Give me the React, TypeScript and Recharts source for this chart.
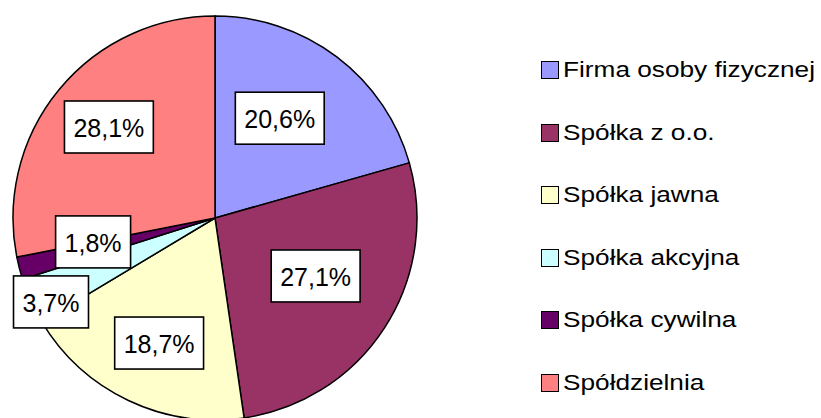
import { PieChart, Pie, Cell, Legend } from 'recharts';

document.body.style.margin = '0';

const categories = [
  'Firma osoby fizycznej',
  'Spółka z o.o.',
  'Spółka jawna',
  'Spółka akcyjna',
  'Spółka cywilna',
  'Spółdzielnia',
];
const shares = [20.6, 27.1, 18.7, 3.7, 1.8, 28.1];
const colors = ['#9999FF', '#993366', '#FFFFCC', '#CCFFFF', '#660066', '#FF8080'];

const chartData = categories.map((name, i) => ({ name, value: shares[i] }));

// label box placement: radial factor and angle nudge (deg) from slice middle
const LABEL_R = [0.589, 0.575, 0.678, 0.912, 0.615, 0.692];
const LABEL_DA = [4.1, 3.0, 1.3, 2.8, -3.3, -1.2];

const FONT = '"Liberation Sans", Arial, sans-serif';
const RAD = Math.PI / 180;

const charWidth = (c: string) => (c === ',' ? 0.278 : c === '%' ? 0.889 : 0.556);

const fmt = (v: number) => `${v.toFixed(1).replace('.', ',')}%`;

const renderLabel = (props: any) => {
  const { cx, cy, midAngle, outerRadius, index, value } = props;
  const a = (midAngle + LABEL_DA[index]) * RAD;
  const r = outerRadius * LABEL_R[index];
  const x = cx + r * Math.cos(a);
  const y = cy - r * Math.sin(a);
  const text = fmt(value);
  const w = text.split('').reduce((s, c) => s + charWidth(c), 0) * 25 + 18;
  const h = 52;
  return (
    <g key={`label-${index}`}>
      <rect x={x - w / 2} y={y - h / 2} width={w} height={h} fill="#FFFFFF" stroke="#000000" strokeWidth={1.6} />
      <text x={x} y={y + 1} textAnchor="middle" dominantBaseline="central" fontFamily={FONT} fontSize={25} fill="#000000">
        {text}
      </text>
    </g>
  );
};

const renderLegend = () => (
  <div style={{ fontFamily: FONT }}>
    {categories.map((name, i) => (
      <div key={name} style={{ height: 62.6, display: 'flex', alignItems: 'center' }}>
        <span
          style={{
            width: 16,
            height: 16,
            background: colors[i],
            border: '1.3px solid #000',
            display: 'inline-block',
            flexShrink: 0,
          }}
        />
        <span
          style={{
            fontSize: 22.5,
            marginLeft: 4,
            color: '#000',
            whiteSpace: 'nowrap',
            display: 'inline-block',
            transform: 'scaleX(1.165)',
            transformOrigin: 'left center',
          }}
        >
          {name}
        </span>
      </div>
    ))}
  </div>
);

export default function App() {
  return (
    <div style={{ width: 821, height: 418, background: '#FFFFFF' }}>
      <PieChart width={821} height={418} margin={{ top: 0, right: 0, bottom: 0, left: 0 }}>
        <Pie
          data={chartData}
          dataKey="value"
          nameKey="name"
          cx={215}
          cy={218}
          outerRadius={202}
          startAngle={90}
          endAngle={-270}
          stroke="#000000"
          strokeWidth={1.5}
          label={renderLabel}
          labelLine={false}
          isAnimationActive={false}
        >
          {chartData.map((entry, index) => (
            <Cell key={`cell-${index}`} fill={colors[index]} />
          ))}
        </Pie>
        <Legend
          layout="vertical"
          content={renderLegend}
          wrapperStyle={{ left: 541, top: 38.7, width: 280, height: 380 }}
        />
      </PieChart>
    </div>
  );
}
